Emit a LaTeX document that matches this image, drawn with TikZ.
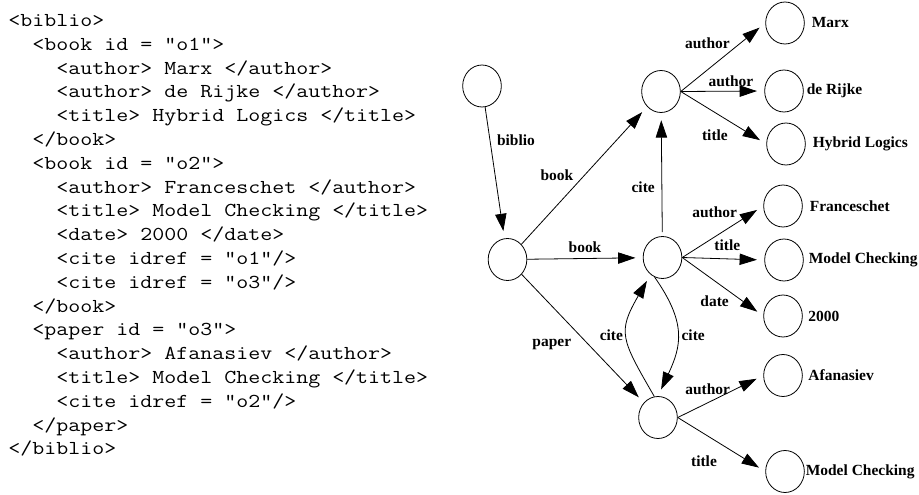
\documentclass[tikz,border=0pt]{standalone}
\usepackage{fontspec}
\setmainfont{Liberation Serif}
\usetikzlibrary{arrows.meta,shapes.geometric,positioning}
\newcommand{\xmlind}{\phantom{xx}}

\tikzset{
  obj/.style={draw, ellipse, minimum width=29pt, minimum height=31.5pt, inner sep=0pt},
  val/.style={font=\bfseries\fontsize{11.6}{13}\selectfont, inner sep=1pt},
  lbl/.style={font=\bfseries\fontsize{11.6}{13}\selectfont, inner sep=1pt},
  xml/.style={font=\ttfamily\fontsize{14.8}{17.85}\selectfont, align=left, inner sep=0pt}
}

\begin{document}
\begin{tikzpicture}[x=0.75pt, y=0.75pt, line width=0.6pt, >={Triangle[length=13pt,width=8.5pt]}, shorten >=5.5pt]
\useasboundingbox (0,0) rectangle (919,-495);

\node[xml, anchor=north west, xscale=1.18, transform shape] (code) at (8,-14) {%
<biblio>\\
\xmlind<book id = "o1">\\
\xmlind\xmlind<author> Marx </author>\\
\xmlind\xmlind<author> de Rijke </author>\\
\xmlind\xmlind<title> Hybrid Logics </title>\\
\xmlind</book>\\
\xmlind<book id = "o2">\\
\xmlind\xmlind<author> Franceschet </author>\\
\xmlind\xmlind<title> Model Checking </title>\\
\xmlind\xmlind<date> 2000 </date>\\
\xmlind\xmlind<cite idref = "o1"/>\\
\xmlind\xmlind<cite idref = "o3"/>\\
\xmlind</book>\\
\xmlind<paper id = "o3">\\
\xmlind\xmlind<author> Afanasiev </author>\\
\xmlind\xmlind<title> Model Checking </title>\\
\xmlind\xmlind<cite idref = "o2"/>\\
\xmlind</paper>\\
</biblio>};

% object nodes
\node[obj] (root) at (482,-86) {};
\node[obj] (n0) at (507.5,-259.5) {};
\node[obj] (o1) at (661,-91.5) {};
\node[obj] (o2) at (662.5,-257.5) {};
\node[obj] (o3) at (658,-417.5) {};

% value nodes
\node[obj] (marx) at (785,-23) {};
\node[obj] (rijke) at (784,-91) {};
\node[obj] (hybrid) at (786,-144) {};
\node[obj] (fran) at (783,-206) {};
\node[obj] (model2) at (784,-260) {};
\node[obj] (year) at (783,-316) {};
\node[obj] (afan) at (783,-375.5) {};
\node[obj] (model3) at (785,-471.5) {};

\node[val, right=4pt of marx] (tmarx) {Marx};
\node[val, right=1pt of rijke] (trijke) {de Rijke};
\node[val, right=4pt of hybrid] (thybrid) {Hybrid Logics};
\node[val, right=4pt of fran] (tfran) {Franceschet};
\node[val, right=2.5pt of model2] (tmodel2) {Model Checking};
\node[val, right=3pt of year] (tyear) {2000};
\node[val, right=3pt of afan] (tafan) {Afanasiev};
\node[val, right=-0.5pt of model3] (tmodel3) {Model Checking};

% edges
\draw[->] (root) -- (n0) node[lbl, pos=0.25, right=4pt] (lbiblio) {biblio};
\draw[->] (n0) -- (o1) node[lbl, midway, left=7pt] (lbook1) {book};
\draw[->] (n0) -- (o2) node[lbl, midway, above=3pt] (lbook2) {book};
\draw[->] (n0) -- (o3) node[lbl, pos=0.55, left=12pt] (lpaper) {paper};
\draw[->, shorten <=3pt] (o2) -- (o1) node[lbl, pos=0.4, left=4pt] (lcite1) {cite};
\draw[->] (o3.100) to[out=120, in=-120, looseness=1.4] node[lbl, midway, left=2pt] (lcite2) {cite} (o2.-125);
\draw[->] (o2.-112) to[out=-55, in=65, looseness=1.2] node[lbl, midway, right=2pt] (lcite3) {cite} (o3.90);

\draw[->] (o1.east) -- (marx.west) node[lbl, pos=0.6, above left] (lauth1) {author};
\draw[->] (o1.east) -- (rijke.west) node[lbl, pos=0.6, above=2pt] (lauth2) {author};
\draw[->] (o1.east) -- (hybrid.west) node[lbl, pos=0.4, below=12pt] (ltitle1) {title};

\draw[->] (o2.east) -- (fran.west) node[lbl, pos=0.4, above=13pt] (lauth3) {author};
\draw[->] (o2.east) -- (model2.west) node[lbl, pos=0.55, above=5pt] (ltitle2) {title};
\draw[->] (o2.east) -- (year.west) node[lbl, pos=0.4, below=10pt] (ldate) {date};

\draw[->] (o3.east) -- (afan.west) node[lbl, pos=0.35, above=5pt] (lauth4) {author};
\draw[->] (o3.east) -- (model3.west) node[lbl, pos=0.3, below=15pt] (ltitle3) {title};
\end{tikzpicture}
\end{document}
